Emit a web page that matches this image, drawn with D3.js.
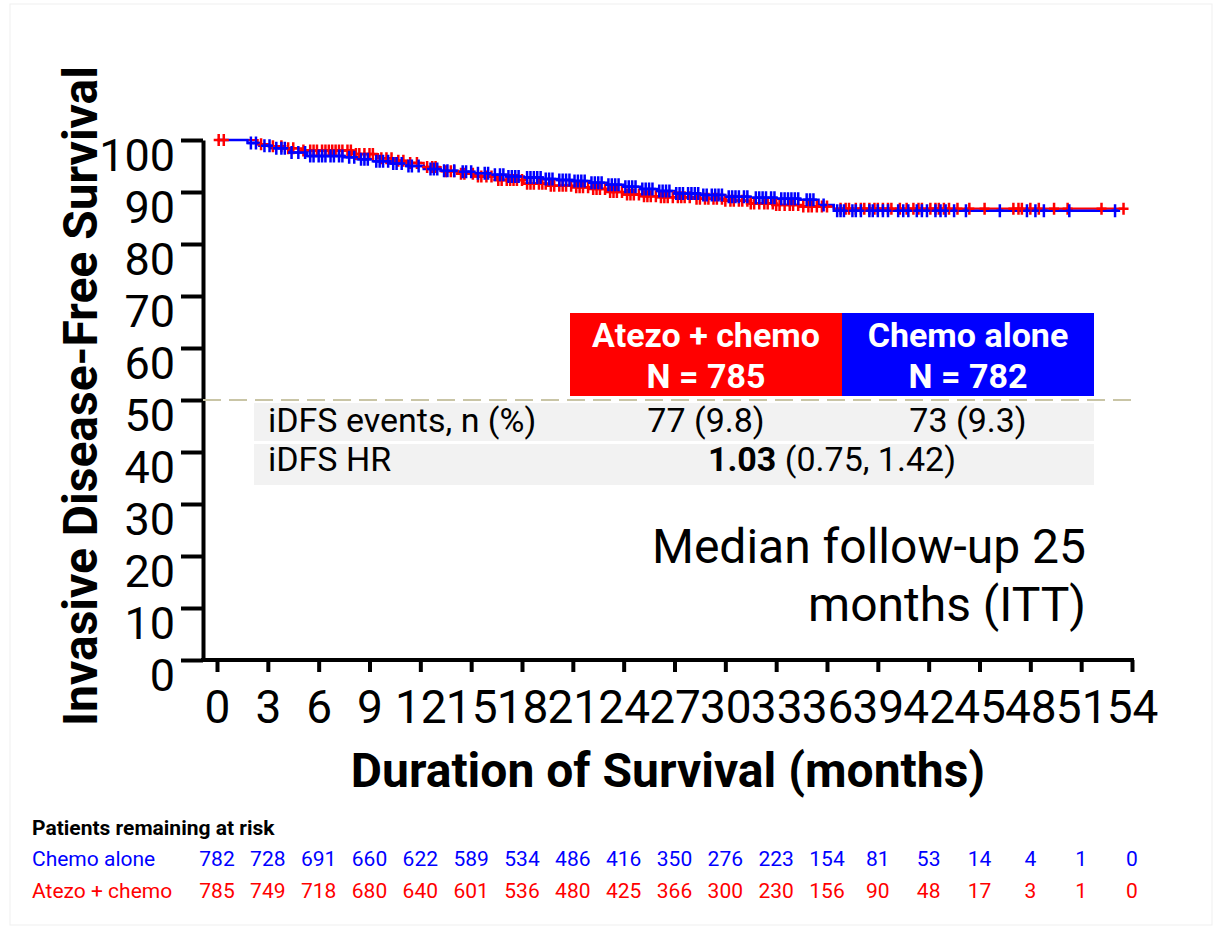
<!DOCTYPE html>
<html>
<head>
<meta charset="utf-8">
<script src="https://cdn.jsdelivr.net/npm/d3@7"></script>
<style>
body { margin: 0; background: #fff; }
svg { display: block; font-family: Roboto, "Noto Sans", sans-serif; }
</style>
</head>
<body>
<svg id="chart" width="1221" height="929"></svg>
<script>
// KM plot - iDFS, atezo + chemo vs chemo alone

// 1) Data

var monthTicks = [0, 3, 6, 9, 12, 15, 18, 21, 24, 27, 30, 33, 36, 39, 42, 45, 48, 51, 54];
var survTicks = [0, 10, 20, 30, 40, 50, 60, 70, 80, 90, 100];

// chemo alone (blue) - step times / survival %
var chemoTimes = [0, 1.8, 2.5, 3.2, 4.3, 5.3, 7.5, 8.3, 9.2, 10.2, 11.2, 12.2, 13.2, 14.2, 15.2, 16.1, 17.1, 18.1,
                  19.2, 20.1, 21.0, 22.0, 23.0, 24.0, 25.0, 26.0, 27.0, 28.5, 30.0, 31.5, 33.0, 34.4, 35.5, 36.4];
var chemoSurv = [100, 99.4, 98.9, 98.4, 97.6, 96.9, 96.7, 96.3, 95.9, 95.5, 95.0, 94.4, 94.1, 93.9, 93.6, 93.3, 93.0, 92.8,
                 92.5, 92.3, 92.1, 91.8, 91.4, 91.0, 90.6, 90.2, 89.7, 89.4, 89.1, 88.9, 88.7, 88.5, 87.5, 86.4];
var chemoEnd = 53.3;
var chemoCensor = [2.0, 2.3, 2.8, 3.1, 3.5, 3.8, 4.0, 4.4, 4.8, 5.2, 5.5, 5.7, 6.0, 6.2, 6.4, 6.7, 6.9, 7.2, 7.4, 7.8,
                   8.1, 8.5, 8.7, 8.9, 9.4, 9.6, 9.8, 10.1, 10.4, 10.6, 10.9, 11.3, 11.5, 11.9, 12.6, 12.8, 13.0, 13.4,
                   13.6, 14.0, 14.5, 14.7, 15.0, 15.4, 15.8, 16.0, 16.4, 16.7, 16.9, 17.2, 17.4, 17.6, 17.8, 18.3, 18.5,
                   18.7, 18.9, 19.1, 19.4, 19.6, 19.8, 20.2, 20.4, 20.6, 20.8, 21.1, 21.3, 21.5, 21.7, 22.1, 22.3, 22.5,
                   22.7, 23.1, 23.3, 23.5, 23.7, 24.1, 24.3, 24.5, 24.7, 25.1, 25.3, 25.5, 25.7, 26.1, 26.3, 26.5, 26.7,
                   27.1, 27.3, 27.5, 27.8, 28.0, 28.2, 28.4, 28.7, 28.9, 29.2, 29.4, 29.6, 29.8, 30.2, 30.4, 30.6, 30.8,
                   31.1, 31.3, 31.8, 32.0, 32.2, 32.4, 32.7, 32.9, 33.3, 33.5, 33.7, 33.9, 34.1, 34.3, 34.8, 35.0, 35.2,
                   35.8, 36.6, 36.8, 37.0, 37.5, 37.7, 38.0, 38.5, 38.7, 39.0, 39.3, 39.6, 40.2, 40.5, 40.8, 41.3, 41.6,
                   41.9, 42.4, 42.7, 43.0, 43.5, 44.2, 46.2, 47.8, 48.3, 48.8, 50.3, 53.0];

// atezo + chemo (red)
var atezoTimes = [0, 2.4, 3.0, 4.0, 5.0, 8.0, 9.5, 10.5, 11.2, 12.2, 13.2, 14.2, 15.2, 16.5, 18.1, 19.5, 21.0, 22.0,
                  23.0, 24.0, 25.0, 26.0, 28.0, 30.0, 31.5, 33.0, 34.4, 36.4];
var atezoSurv = [100, 99.2, 98.8, 98.4, 98.0, 97.3, 96.5, 96.0, 95.6, 94.8, 94.0, 93.5, 93.0, 92.3, 91.6, 91.2, 90.9, 90.6,
                 90.0, 89.5, 89.2, 89.0, 88.7, 88.3, 87.8, 87.5, 87.2, 86.8];
var atezoEnd = 53.5;
var atezoCensor = [0.1, 0.4, 2.6, 3.3, 3.8, 4.2, 4.5, 5.1, 5.5, 5.7, 5.9, 6.2, 6.4, 6.6, 6.8, 7.0, 7.2, 7.4, 7.7, 7.9,
                   8.2, 8.4, 8.7, 9.0, 9.2, 9.7, 10.0, 10.3, 10.7, 11.0, 11.4, 11.8, 12.4, 12.7, 12.9, 13.5, 13.8, 14.0,
                   14.4, 14.6, 15.1, 15.4, 15.6, 15.9, 16.2, 16.6, 16.8, 17.1, 17.3, 17.5, 17.7, 18.0, 18.3, 18.5, 18.7,
                   19.0, 19.2, 19.4, 19.7, 19.9, 20.2, 20.4, 20.6, 20.9, 21.2, 21.4, 21.6, 21.9, 22.2, 22.4, 22.6, 22.9,
                   23.2, 23.4, 23.6, 23.9, 24.2, 24.4, 24.6, 24.9, 25.2, 25.4, 25.6, 25.9, 26.2, 26.4, 26.6, 26.9, 27.2,
                   27.4, 27.6, 27.9, 28.3, 28.5, 28.8, 29.0, 29.3, 29.5, 29.8, 30.0, 30.3, 30.5, 30.8, 31.0, 31.3, 31.5,
                   31.7, 32.0, 32.3, 32.5, 32.8, 33.0, 33.2, 33.5, 33.8, 34.0, 34.3, 34.6, 34.9, 35.1, 35.4, 35.7, 36.0,
                   36.8, 37.1, 37.3, 37.7, 38.0, 38.2, 38.5, 38.8, 39.0, 39.3, 39.6, 39.8, 40.3, 40.7, 41.1, 41.4, 41.6,
                   42.1, 42.4, 42.6, 42.9, 43.2, 43.7, 44.4, 45.3, 47.0, 47.3, 47.5, 48.0, 48.5, 49.4, 50.2, 52.2, 53.5];

// patients at risk, one per month tick
var riskLabels = ["Chemo alone", "Atezo + chemo"];
var riskChemo = [782, 728, 691, 660, 622, 589, 534, 486, 416, 350, 276, 223, 154, 81, 53, 14, 4, 1, 0];
var riskAtezo = [785, 749, 718, 680, 640, 601, 536, 480, 425, 366, 300, 230, 156, 90, 48, 17, 3, 1, 0];

// summary table
var armNames = ["Atezo + chemo", "Chemo alone"];
var armN = [785, 782];
var armEvents = ["77 (9.8)", "73 (9.3)"];
var hrValue = "1.03";
var hrCI = "(0.75, 1.42)";

var RED = "#ff0000", BLUE = "#0000ff";


// 2) Scales and axes

var svg = d3.select("#chart");

// faint frame round the figure
svg.append("rect")
   .attr("x", 10).attr("y", 4).attr("width", 1202).attr("height", 921)
   .attr("fill", "none").attr("stroke", "#efefef").attr("stroke-width", 1);

var x = d3.scaleLinear().domain([0, 54]).range([217, 1132]);
var y = d3.scaleLinear().domain([0, 100]).range([660, 140]);
var axisX = 203;

// y axis
var gy = svg.append("g")
   .attr("transform", "translate(" + axisX + ",0)")
   .call(d3.axisLeft(y).tickValues(survTicks).tickSize(22).tickSizeOuter(0).tickPadding(6));
gy.select(".domain").attr("stroke", "#000").attr("stroke-width", 4);
gy.selectAll(".tick line").attr("stroke", "#000").attr("stroke-width", 4);
gy.selectAll(".tick text")
   .attr("dy", 30)
   .attr("fill", "#000")
   .style("font-family", "Roboto")
   .style("font-size", "45px");

// x axis
var gx = svg.append("g")
   .attr("transform", "translate(0," + y(0) + ")")
   .call(d3.axisBottom(x).tickValues(monthTicks).tickSize(12).tickSizeOuter(0));
gx.select(".domain").remove();
gx.selectAll(".tick line").attr("stroke", "#000").attr("stroke-width", 4);
gx.selectAll(".tick text")
   .attr("y", 63).attr("dy", 0)
   .attr("fill", "#000")
   .style("font-family", "Roboto")
   .style("font-size", "46px");
gx.append("line")
   .attr("x1", axisX - 2).attr("x2", x(54) + 2)
   .attr("y1", 0).attr("y2", 0)
   .attr("stroke", "#000").attr("stroke-width", 4);

// axis titles
svg.append("text")
   .attr("transform", "translate(97," + 396 + ") rotate(-90)")
   .attr("text-anchor", "middle")
   .style("font-weight", "bold").style("font-size", "48px")
   .text("Invasive Disease-Free Survival");

svg.append("text")
   .attr("x", 668).attr("y", 787)
   .attr("text-anchor", "middle")
   .style("font-weight", "bold").style("font-size", "48px")
   .text("Duration of Survival (months)");

// 50% reference line
svg.append("line")
   .attr("x1", axisX).attr("x2", x(54))
   .attr("y1", y(50)).attr("y2", y(50))
   .attr("stroke", "#c9c5a6").attr("stroke-width", 2)
   .attr("stroke-dasharray", "18,8");


// 3) Summary table

var boxTop = 313, boxBottom = 396;
var colEdges = [570, 842, 1094];
var armFill = [RED, BLUE];

armNames.forEach(function (name, i) {
   var cx = (colEdges[i] + colEdges[i + 1]) / 2;
   svg.append("rect")
      .attr("x", colEdges[i]).attr("y", boxTop)
      .attr("width", colEdges[i + 1] - colEdges[i]).attr("height", boxBottom - boxTop)
      .attr("fill", armFill[i]);
   svg.append("text")
      .attr("x", cx).attr("y", 347)
      .attr("text-anchor", "middle").attr("fill", "#fff")
      .style("font-weight", "bold").style("font-size", "34px")
      .text(name);
   svg.append("text")
      .attr("x", cx).attr("y", 388)
      .attr("text-anchor", "middle").attr("fill", "#fff")
      .style("font-weight", "bold").style("font-size", "34px")
      .text("N = " + armN[i]);
});

var rows = [{ top: 403, bottom: 441 }, { top: 444, bottom: 485 }];
rows.forEach(function (r) {
   svg.append("rect")
      .attr("x", 254).attr("y", r.top)
      .attr("width", 1094 - 254).attr("height", r.bottom - r.top)
      .attr("fill", "#f2f2f2");
});

svg.append("text")
   .attr("x", 268).attr("y", 432)
   .style("font-size", "34px")
   .text("iDFS events, n (%)");
armEvents.forEach(function (ev, i) {
   svg.append("text")
      .attr("x", (colEdges[i] + colEdges[i + 1]) / 2).attr("y", 432)
      .attr("text-anchor", "middle")
      .style("font-size", "34px")
      .text(ev);
});

svg.append("text")
   .attr("x", 268).attr("y", 471)
   .style("font-size", "34px")
   .text("iDFS HR");
var hr = svg.append("text")
   .attr("x", 832).attr("y", 471)
   .attr("text-anchor", "middle")
   .style("font-size", "34px");
hr.append("tspan").style("font-weight", "bold").text(hrValue);
hr.append("tspan").text(" " + hrCI);

// median follow-up note
svg.append("text")
   .attr("x", 1086).attr("y", 563)
   .attr("text-anchor", "end")
   .style("font-size", "48px")
   .text("Median follow-up 25");
svg.append("text")
   .attr("x", 1086).attr("y", 621)
   .attr("text-anchor", "end")
   .style("font-size", "48px")
   .text("months (ITT)");


// 4) KM curves

var survAt = function (times, surv, t) {
   var i = d3.bisectRight(times, t) - 1;
   return surv[Math.max(i, 0)];
};

var stepLine = d3.line()
   .x(function (d) { return x(d[0]); })
   .y(function (d) { return y(d[1]); })
   .curve(d3.curveStepAfter);

var curvePoints = function (times, surv, end) {
   var pts = times.map(function (t, i) { return [t, surv[i]]; });
   pts.push([end, surv[surv.length - 1]]);
   return pts;
};

var drawCurve = function (times, surv, end, color, width) {
   svg.append("path")
      .datum(curvePoints(times, surv, end))
      .attr("d", stepLine)
      .attr("fill", "none")
      .attr("stroke", color)
      .attr("stroke-width", width);
};

var drawCensor = function (times, surv, censor, color, hw, hh) {
   svg.append("g").selectAll("path")
      .data(censor)
      .enter().append("path")
      .attr("d", function (t) {
         var cx = x(t), cy = y(survAt(times, surv, t));
         return "M" + (cx - hw) + "," + cy + "H" + (cx + hw) +
                "M" + cx + "," + (cy - hh) + "V" + (cy + hh);
      })
      .attr("stroke", color)
      .attr("stroke-width", 2.5)
      .attr("fill", "none");
};

drawCurve(atezoTimes, atezoSurv, atezoEnd, RED, 2.2);
drawCurve(chemoTimes, chemoSurv, chemoEnd, BLUE, 2.5);
drawCensor(atezoTimes, atezoSurv, atezoCensor, RED, 5, 6);
drawCensor(chemoTimes, chemoSurv, chemoCensor, BLUE, 3.5, 6.5);


// 5) Patients at risk

svg.append("text")
   .attr("x", 32).attr("y", 835)
   .style("font-weight", "bold").style("font-size", "21px")
   .text("Patients remaining at risk");

var riskRows = [riskChemo, riskAtezo];
var riskColor = [BLUE, RED];
var riskY = [866, 898];

riskRows.forEach(function (vals, r) {
   svg.append("text")
      .attr("x", 32).attr("y", riskY[r])
      .attr("fill", riskColor[r])
      .style("font-size", "21px")
      .text(riskLabels[r]);
   svg.append("g").selectAll("text")
      .data(vals)
      .enter().append("text")
      .attr("x", function (d, i) { return x(monthTicks[i]); })
      .attr("y", riskY[r])
      .attr("text-anchor", "middle")
      .attr("fill", riskColor[r])
      .style("font-size", "21px")
      .text(function (d) { return d; });
});
</script>
</body>
</html>
